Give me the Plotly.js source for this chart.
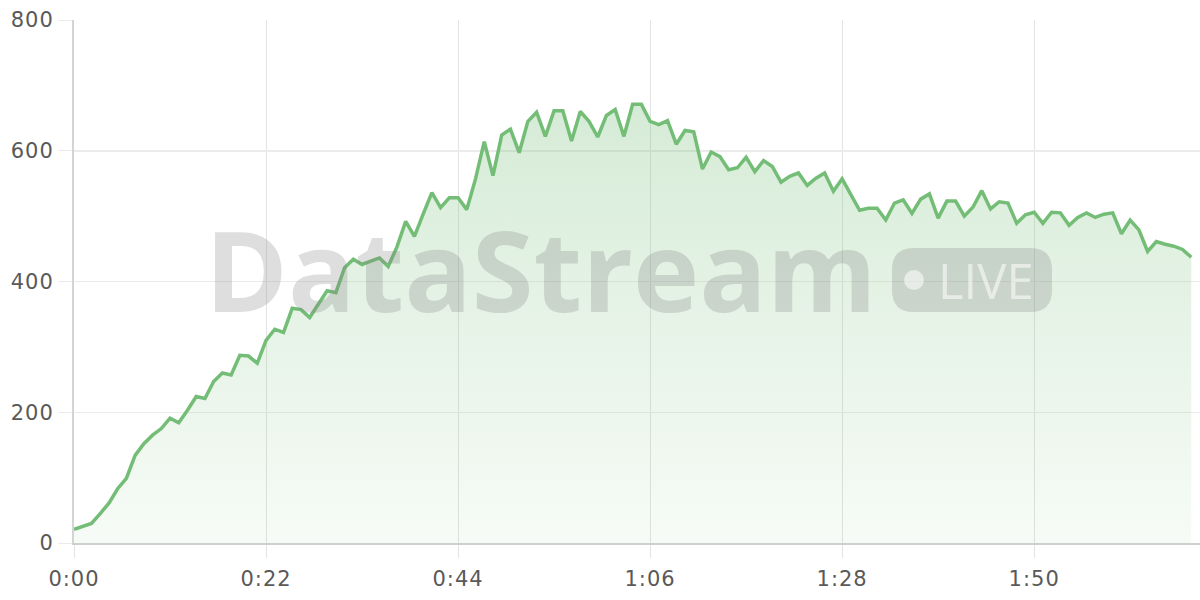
<!DOCTYPE html>
<html>
<head>
<meta charset="utf-8">
<script src="https://cdn.plot.ly/plotly-3.0.1.min.js"></script>
<style>
  html, body { margin: 0; padding: 0; background: #fff; }
  #chart { width: 1200px; height: 600px; }
  #chart .xtick text, #chart .ytick text { letter-spacing: 1px; }
</style>
</head>
<body>
<div id="chart"></div>
<script>
// Elapsed time in seconds (one sample per second)
const seconds = [
  0,1,2,3,4,5,6,7,8,9,10,11,12,13,14,15,16,17,18,19,20,21,22,23,24,25,26,27,28,29,
  30,31,32,33,34,35,36,37,38,39,40,41,42,43,44,45,46,47,48,49,50,51,52,53,54,55,56,57,58,59,
  60,61,62,63,64,65,66,67,68,69,70,71,72,73,74,75,76,77,78,79,80,81,82,83,84,85,86,87,88,89,
  90,91,92,93,94,95,96,97,98,99,100,101,102,103,104,105,106,107,108,109,110,111,112,113,114,
  115,116,117,118,119,120,121,122,123,124,125,126,127,128
];
// Stream throughput values
const values = [
  21,25,30,45,61,83,99,134,152,165,175,191,184,203,224,221,247,260,257,287,
  286,275,310,327,322,359,357,345,366,386,383,421,434,426,431,436,423,453,492,469,
  503,536,513,528,528,510,557,614,562,624,633,597,645,659,622,661,661,615,660,645,
  621,654,663,622,671,671,645,640,646,610,631,629,572,598,591,571,574,590,568,585,
  576,552,561,566,547,558,566,538,557,534,509,512,512,494,520,525,504,526,534,497,
  523,523,500,514,539,511,522,520,489,502,506,489,506,505,486,498,505,498,503,505,
  473,494,479,446,461,457,454,449,437
];
const tickSeconds = [0, 22, 44, 66, 88, 110];
const tickLabels = ['0:00', '0:22', '0:44', '1:06', '1:28', '1:50'];
const yTicks = [0, 200, 400, 600, 800];

const green = 'rgb(116,189,119)';

const trace = {
  x: seconds,
  y: values,
  type: 'scatter',
  mode: 'lines',
  line: { color: green, width: 3.5 },
  fill: 'tozeroy',
  fillgradient: {
    type: 'vertical',
    start: 0,
    stop: 680,
    colorscale: [[0, 'rgba(116,189,119,0.06)'], [1, 'rgba(116,189,119,0.30)']]
  },
  hoverinfo: 'skip'
};

// plot area in pixels
const L = 74, R = 1200, T = 20, B = 543;
function px(x) { return (x - L) / (R - L); }
function py(y) { return (B - y) / (B - T); }
function roundRect(x0, y0, x1, y1, r) {
  const p = (x, y) => px(x).toFixed(5) + ',' + py(y).toFixed(5);
  return 'M' + p(x0 + r, y0) + ' L' + p(x1 - r, y0) + ' Q' + p(x1, y0) + ' ' + p(x1, y0 + r) +
    ' L' + p(x1, y1 - r) + ' Q' + p(x1, y1) + ' ' + p(x1 - r, y1) +
    ' L' + p(x0 + r, y1) + ' Q' + p(x0, y1) + ' ' + p(x0, y1 - r) +
    ' L' + p(x0, y0 + r) + ' Q' + p(x0, y0) + ' ' + p(x0 + r, y0) + ' Z';
}

const tickFont = { family: 'DejaVu Sans', size: 21, color: '#595959' };

const layout = {
  width: 1200,
  height: 600,
  margin: { l: L, r: 1200 - R, t: T, b: 600 - B },
  paper_bgcolor: '#ffffff',
  plot_bgcolor: '#ffffff',
  showlegend: false,
  font: tickFont,
  xaxis: {
    range: [0, 129],
    tickvals: tickSeconds,
    ticktext: tickLabels,
    showgrid: true,
    gridcolor: '#e3e3e3',
    gridwidth: 1,
    ticks: 'outside',
    ticklen: 13,
    tickcolor: '#e3e3e3',
    ticklabelstandoff: 3,
    showline: true,
    linecolor: '#cfcfcf',
    linewidth: 2,
    zeroline: false,
    fixedrange: true,
    tickfont: tickFont
  },
  yaxis: {
    range: [0, 800],
    tickvals: yTicks,
    showgrid: true,
    gridcolor: '#ebebeb',
    gridwidth: 1.5,
    ticks: 'outside',
    ticklen: 14,
    tickcolor: '#ebebeb',
    showline: true,
    linecolor: '#d4d4d4',
    linewidth: 2,
    zeroline: false,
    fixedrange: true,
    tickfont: tickFont
  },
  shapes: [
    {
      type: 'path', xref: 'paper', yref: 'paper', layer: 'above',
      path: roundRect(892, 248, 1052, 312, 22),
      fillcolor: 'rgba(128,128,128,0.26)', line: { width: 0 }
    },
    {
      type: 'circle', xref: 'paper', yref: 'paper', layer: 'above',
      x0: px(904), x1: px(924), y0: py(290), y1: py(270),
      fillcolor: 'rgba(255,255,255,0.55)', line: { width: 0 }
    }
  ],
  annotations: [
    {
      xref: 'paper', yref: 'paper', x: px(541), y: py(268),
      xanchor: 'center', yanchor: 'middle', showarrow: false,
      text: 'DataStream',
      font: { family: 'Open Sans', size: 112, weight: 700, color: 'rgba(128,128,128,0.26)' }
    },
    {
      xref: 'paper', yref: 'paper', x: px(986), y: py(280),
      xanchor: 'center', yanchor: 'middle', showarrow: false,
      text: 'LIVE',
      font: { family: 'Open Sans', size: 49, weight: 400, color: 'rgba(255,255,255,0.55)' }
    }
  ]
};

Plotly.newPlot('chart', [trace], layout, { displayModeBar: false, staticPlot: true });
</script>
</body>
</html>
